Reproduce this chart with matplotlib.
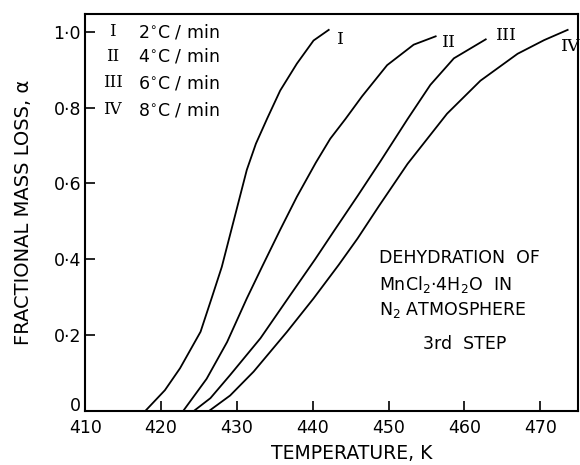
import matplotlib
matplotlib.use("Agg")
import matplotlib.pyplot as plt
from matplotlib.transforms import ScaledTranslation

# curve data (temperature K, fractional mass loss)
t_I = [417.9, 420.5, 422.5, 425.2, 426.7, 428.0, 429.6, 431.3, 432.5, 434.0, 435.7, 437.9, 440.1, 442.1]
a_I = [0.0, 0.055, 0.113, 0.209, 0.30, 0.38, 0.504, 0.636, 0.705, 0.772, 0.845, 0.916, 0.977, 1.005]

t_II = [422.9, 426.0, 428.7, 431.3, 433.3, 435.7, 437.9, 440.4, 442.3, 444.3, 446.5, 449.8, 453.3, 456.2]
a_II = [0.0, 0.085, 0.182, 0.297, 0.38, 0.478, 0.565, 0.655, 0.718, 0.77, 0.83, 0.912, 0.966, 0.988]

t_III = [424.3, 426.5, 429.1, 433.1, 437.0, 440.3, 442.8, 445.9, 448.9, 452.5, 455.5, 458.6, 462.8]
a_III = [0.0, 0.034, 0.095, 0.192, 0.305, 0.40, 0.475, 0.567, 0.658, 0.77, 0.86, 0.93, 0.98]

t_IV = [426.3, 429.1, 432.2, 436.6, 440.1, 443.4, 445.9, 448.7, 452.5, 457.7, 462.1, 467.0, 470.5, 473.6]
a_IV = [0.0, 0.041, 0.104, 0.209, 0.297, 0.385, 0.455, 0.54, 0.652, 0.784, 0.871, 0.942, 0.978, 1.005]

curve_names = ["I", "II", "III", "IV"]
rates = ["2", "4", "6", "8"]

x_ticks = [410, 420, 430, 440, 450, 460, 470]
y_ticks = [0, 0.2, 0.4, 0.6, 0.8, 1.0]
y_tick_labels = ["0", "0·2", "0·4", "0·6", "0·8", "1·0"]

plt.rcParams['font.family'] = ['DejaVu Sans']

fig = plt.figure(figsize=(5.8, 4.65), dpi=100)
ax = fig.add_axes([0.147, 0.116, 0.85, 0.854])

for t, a in [(t_I, a_I), (t_II, a_II), (t_III, a_III), (t_IV, a_IV)]:
    ax.plot(t, a, color='black', linewidth=1.3)

# curve labels at the end of each curve
label_pos = [(443.7, 0.98), (458.0, 0.972), (465.6, 0.99), (474.0, 0.96)]
for name, (tx, ty) in zip(curve_names, label_pos):
    ax.text(tx, ty, name, fontsize=12.5, family='DejaVu Serif', ha='center', va='center')

# heating-rate key in the top-left corner
key_y = [1.0, 0.935, 0.865, 0.795]
for name, rate, ky in zip(curve_names, rates, key_y):
    ax.text(413.6, ky, name, fontsize=12, family='DejaVu Serif', ha='center', va='center')
    ax.text(417.0, ky, rate + "$^{\\circ}$C / min", fontsize=12.5, ha='left', va='center')

ax.text(0.595, 0.385, "DEHYDRATION  OF", transform=ax.transAxes, fontsize=12.5, ha='left', va='center')
ax.text(0.595, 0.318, "MnCl$_2$·4H$_2$O  IN", transform=ax.transAxes, fontsize=12.5, ha='left', va='center')
ax.text(0.595, 0.255, "N$_2$ ATMOSPHERE", transform=ax.transAxes, fontsize=12.5, ha='left', va='center')
ax.text(0.77, 0.17, "3rd  STEP", transform=ax.transAxes, fontsize=12.5, ha='center', va='center')

ax.set_xlim(410, 475)
ax.set_ylim(0, 1.047)
ax.set_xticks(x_ticks)
ax.set_yticks(y_ticks)
ax.set_yticklabels(y_tick_labels)
ax.tick_params(direction='in', length=7, width=1.2, labelsize=12.5)
ax.tick_params(axis='x', pad=6)
ax.tick_params(axis='y', pad=3)

# lift the "0" label a little, as in the original
zero_lbl = ax.get_yticklabels()[0]
zero_lbl.set_transform(zero_lbl.get_transform() + ScaledTranslation(0, 5 / 72, fig.dpi_scale_trans))

for s in ax.spines.values():
    s.set_linewidth(1.5)

ax.set_xlabel("TEMPERATURE, K", fontsize=13.5)
ax.xaxis.set_label_coords(0.54, -0.083)
ax.set_ylabel("FRACTIONAL MASS LOSS, α", fontsize=14, labelpad=15)

fig.savefig("out.png", dpi=100)
